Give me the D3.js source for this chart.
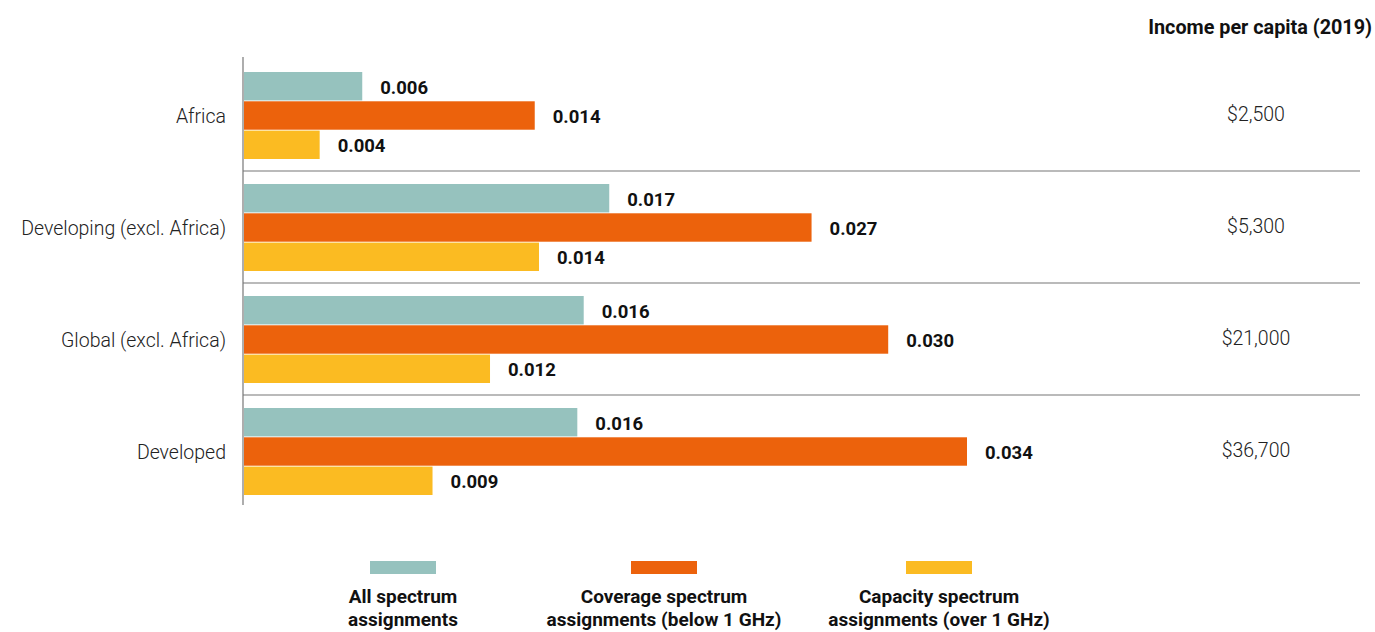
<!DOCTYPE html>
<html><head><meta charset="utf-8">
<script src="https://cdn.jsdelivr.net/npm/d3@7"></script>
<style>
body{margin:0;background:#fff;}
svg text{font-family:"Roboto","Open Sans",sans-serif;}
</style></head>
<body><svg id="chart" width="1375" height="632"></svg>
<script>
const categories = ["Africa", "Developing (excl. Africa)", "Global (excl. Africa)", "Developed"];
const seriesNames = ["All spectrum assignments", "Coverage spectrum assignments (below 1 GHz)", "Capacity spectrum assignments (over 1 GHz)"];
const allSpectrum = [0.0056, 0.0172, 0.0160, 0.0157];
const coverage = [0.0137, 0.0267, 0.0303, 0.0340];
const capacity = [0.0036, 0.0139, 0.0116, 0.0089];
const valueLabels = [
  ["0.006", "0.017", "0.016", "0.016"],
  ["0.014", "0.027", "0.030", "0.034"],
  ["0.004", "0.014", "0.012", "0.009"]
];
const income = ["$2,500", "$5,300", "$21,000", "$36,700"];
const incomeTitle = "Income per capita (2019)";
const legendLines = [["All spectrum", "assignments"], ["Coverage spectrum", "assignments (below 1 GHz)"], ["Capacity spectrum", "assignments (over 1 GHz)"]];
const colors = ["#96c2be", "#ec620c", "#fbbb22"];

const series = [allSpectrum, coverage, capacity];
const svg = d3.select("#chart");
const x0 = 243;
const x = d3.scaleLinear().domain([0, 0.034]).range([x0, 967]);
const y = d3.scaleBand().domain(categories).range([59, 507]).paddingInner(0).paddingOuter(0);
const inner = d3.scaleBand().domain([0,1,2]).range([13, y.bandwidth()-12]).paddingInner(0.03);

// separators
svg.selectAll("line.sep").data(categories.slice(1)).join("line")
  .attr("x1", x0).attr("x2", 1360)
  .attr("y1", d => y(d)).attr("y2", d => y(d))
  .attr("stroke", "#777").attr("stroke-width", 1.2);

const g = svg.selectAll("g.cat").data(categories).join("g")
  .attr("transform", d => `translate(0,${y(d)})`);

series.forEach((vals, si) => {
  g.append("rect")
    .attr("x", x0 + 1)
    .attr("y", inner(si))
    .attr("width", (d, i) => x(vals[i]) - x0 - 1)
    .attr("height", inner.bandwidth())
    .attr("fill", colors[si]);
  g.append("text")
    .attr("x", (d, i) => x(vals[i]) + 18)
    .attr("y", inner(si) + inner.bandwidth()/2 + 1)
    .attr("dy", "0.35em")
    .attr("font-size", 18.5).attr("font-weight", "bold").attr("fill", "#111")
    .text((d, i) => valueLabels[si][i]);
});

// category labels
g.append("text")
  .attr("x", 226).attr("y", inner(1) + inner.bandwidth()/2 + 1).attr("dy", "0.35em")
  .attr("text-anchor", "end").attr("font-size", 19.5).attr("font-weight", 300).attr("fill", "#222")
  .text(d => d);

// income labels
g.append("text")
  .attr("x", 1256).attr("y", inner(1) + inner.bandwidth()/2 - 1).attr("dy", "0.35em")
  .attr("text-anchor", "middle").attr("font-size", 19.5).attr("font-weight", 300).attr("fill", "#222")
  .text((d, i) => income[i]);

svg.append("text").attr("x", 1372).attr("y", 34).attr("text-anchor", "end")
  .attr("font-size", 19.8).attr("font-weight", "bold").attr("fill", "#111")
  .text(incomeTitle);

// axis line
svg.append("line").attr("x1", x0).attr("x2", x0).attr("y1", 57).attr("y2", 505)
  .attr("stroke", "#777").attr("stroke-width", 1.2);

// legend
const legendX = d3.scaleOrdinal().domain([0,1,2]).range([403, 664, 939]);
const lg = svg.selectAll("g.leg").data(seriesNames).join("g")
  .attr("transform", (d, i) => `translate(${legendX(i)},0)`);
lg.append("rect").attr("x", -33).attr("y", 561).attr("width", 66).attr("height", 13)
  .attr("fill", (d, i) => colors[i]);
lg.each(function(d, i) {
  const sel = d3.select(this);
  legendLines[i].forEach((ln, li) => {
    sel.append("text").attr("x", 0).attr("y", 603 + li * 23)
      .attr("text-anchor", "middle").attr("font-size", 19).attr("font-weight", "bold").attr("fill", "#111")
      .text(ln);
  });
});
</script></body></html>
